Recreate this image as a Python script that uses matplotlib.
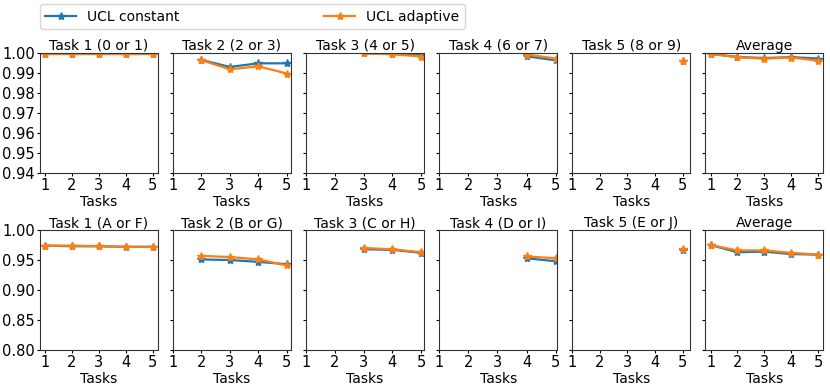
import numpy as np
import matplotlib
matplotlib.use("Agg")
import matplotlib.pyplot as plt

tasks = [1, 2, 3, 4, 5]

titles_top = ['Task 1 (0 or 1)', 'Task 2 (2 or 3)', 'Task 3 (4 or 5)',
              'Task 4 (6 or 7)', 'Task 5 (8 or 9)', 'Average']
titles_bot = ['Task 1 (A or F)', 'Task 2 (B or G)', 'Task 3 (C or H)',
              'Task 4 (D or I)', 'Task 5 (E or J)', 'Average']

# top row (split MNIST), accuracy after training on each task
const_top = [
    [0.9995, 0.9995, 0.9995, 0.9995, 0.9995],
    [0.9965, 0.9930, 0.9948, 0.9948],
    [0.9998, 0.9995, 0.9990],
    [0.9983, 0.9963],
    [0.9962],
    [0.9995, 0.9980, 0.9974, 0.9979, 0.9972],
]
adapt_top = [
    [0.9995, 0.9995, 0.9995, 0.9995, 0.9995],
    [0.9964, 0.9918, 0.9933, 0.9897],
    [0.9998, 0.9993, 0.9982],
    [0.9992, 0.9972],
    [0.9962],
    [0.9995, 0.9978, 0.9971, 0.9977, 0.9961],
]

# bottom row (split notMNIST)
const_bot = [
    [0.974, 0.973, 0.973, 0.972, 0.972],
    [0.951, 0.950, 0.947, 0.943],
    [0.968, 0.967, 0.962],
    [0.953, 0.948],
    [0.966],
    [0.975, 0.963, 0.964, 0.960, 0.959],
]
adapt_bot = [
    [0.974, 0.974, 0.973, 0.972, 0.972],
    [0.957, 0.955, 0.951, 0.941],
    [0.970, 0.968, 0.963],
    [0.956, 0.953],
    [0.968],
    [0.975, 0.966, 0.966, 0.962, 0.959],
]

c_blue = '#1f77b4'
c_orange = '#ff7f0e'

plt.rcParams['font.size'] = 10

fig, axes = plt.subplots(2, 6, figsize=(8.3, 3.89), dpi=100, sharey='row')
fig.subplots_adjust(left=0.048, right=0.992, top=0.864, bottom=0.1,
                    wspace=0.127, hspace=0.475)

rows = [(titles_top, const_top, adapt_top, np.arange(0.94, 1.001, 0.01), (0.94, 1.0)),
        (titles_bot, const_bot, adapt_bot, np.arange(0.80, 1.001, 0.05), (0.80, 1.0))]

for r, (titles, cons, adap, yt, yl) in enumerate(rows):
    for i in range(6):
        ax = axes[r, i]
        if i < 5:
            xs = tasks[i:]
        else:
            xs = tasks
        ax.plot(xs, cons[i], color=c_blue, marker='*', lw=1.6, ms=6, label='UCL constant')
        ax.plot(xs, adap[i], color=c_orange, marker='*', lw=1.6, ms=6, label='UCL adaptive')
        ax.set_xticks(tasks)
        ax.set_title(titles[i], fontsize=10, pad=2)
        ax.set_xlabel('Tasks', fontsize=10, labelpad=1)
        ax.set_ylim(*yl)
        ax.set_yticks(yt)
        ax.yaxis.set_major_formatter(plt.FormatStrFormatter('%.2f'))
        ax.tick_params(labelsize=10.5, pad=1.5, length=2.2)
        for s in ax.spines.values():
            s.set_color('#333333')

handles, labels = axes[0, 0].get_legend_handles_labels()
fig.legend(handles, labels, ncol=2, mode='expand', loc='lower left',
           bbox_to_anchor=(0.048, 0.925, 0.512, 0.062), fontsize=10,
           borderaxespad=0, handlelength=2.2)

plt.savefig('out.png', dpi=100)
